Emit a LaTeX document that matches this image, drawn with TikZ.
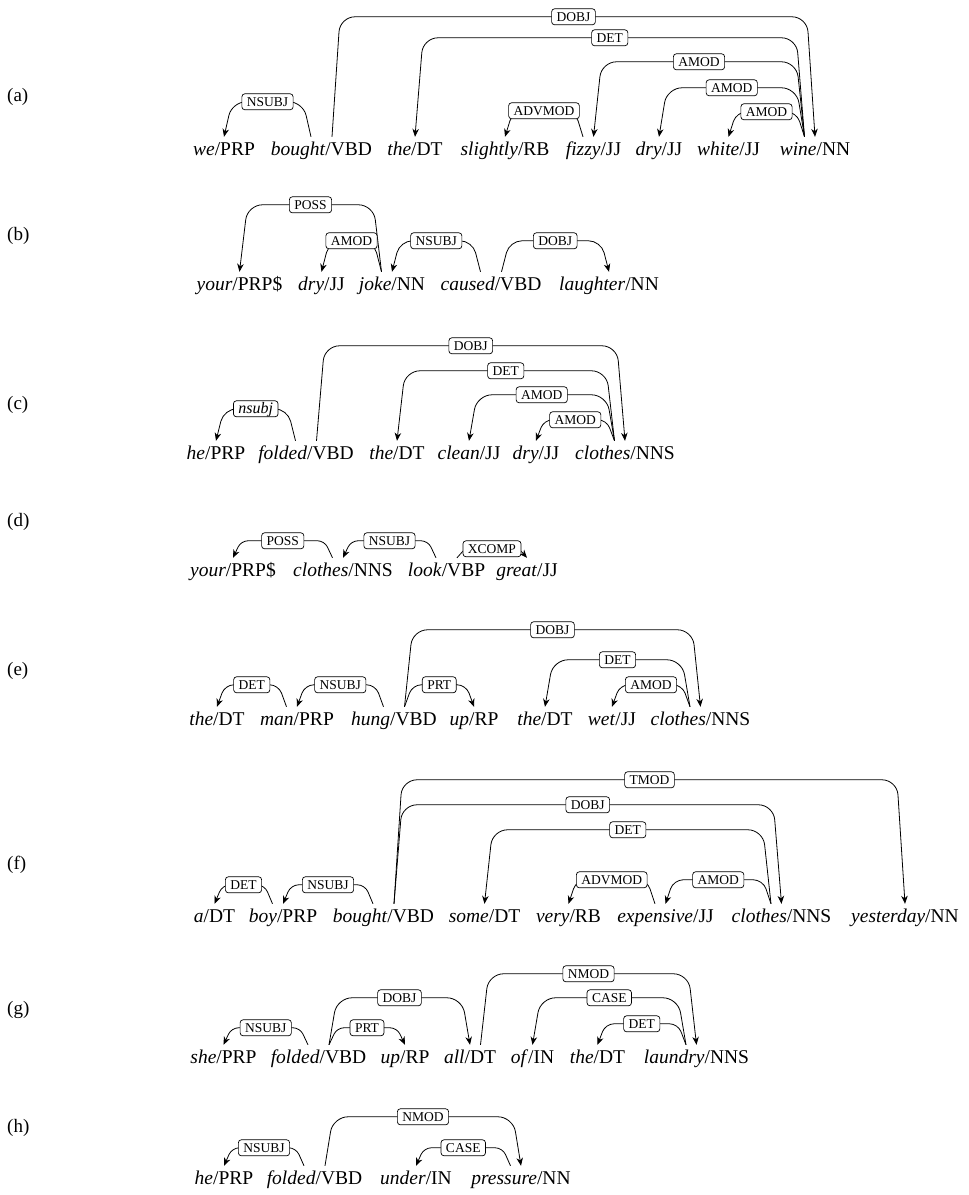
\documentclass[tikz,border=0pt]{standalone}
\usepackage{fontspec}
\setmainfont{Liberation Serif}
\usetikzlibrary{positioning,calc,arrows.meta}

% one dependency arc: head, dependent, direction (1 right, -1 left), height, label
\newcommand{\deparc}[5]{%
  \pgfmathsetmacro\arcround{min(15,0.4*#4)}
  \draw[dep,rounded corners=\arcround pt] ([xshift=#3*10.5pt]#1.north) -- ++(#3*8,#4)
    -- ($(#2.north)+(#3*-8,#4)$) node[lab,midway] {#5} -- (#2.north);
}

\begin{document}
\begin{tikzpicture}
[x=1pt,y=1pt,
word/.style={anchor=base,inner xsep=0pt,inner ysep=6pt,text height=13pt,text depth=4pt,font=\fontsize{19.5}{23}\selectfont},
tag/.style={inner sep=0pt,anchor=west,font=\fontsize{19}{23}\selectfont},
lab/.style={draw,fill=white,rounded corners=3pt,line width=0.7pt,inner xsep=5pt,inner ysep=0pt,
  minimum height=16pt,text height=9pt,text depth=0pt,font=\fontsize{13.5}{15}\selectfont},
dep/.style={draw,line width=0.8pt,-{Stealth[length=8pt,width=6.5pt,inset=2.5pt]}}]
\useasboundingbox (0,0) rectangle (969,1195);

% (a)
\node[tag] (ta) at (7,1098.4) {(a)};
\node[word] (a1) at (224,1039) {\textit{we}/PRP};
\node[word] (a2) at (321.5,1039) {\textit{bought}/VBD};
\node[word] (a3) at (415,1039) {\textit{the}/DT};
\node[word] (a4) at (505,1039) {\textit{slightly}/RB};
\node[word] (a5) at (593.5,1039) {\textit{fizzy}/JJ};
\node[word] (a6) at (659,1039) {\textit{dry}/JJ};
\node[word] (a7) at (728.5,1039) {\textit{white}/JJ};
\node[word] (a8) at (815,1039) {\textit{wine}/NN};
\deparc{a2}{a1}{-1}{35}{NSUBJ}
\deparc{a2}{a8}{1}{120}{DOBJ}
\deparc{a8}{a3}{-1}{99}{DET}
\deparc{a5}{a4}{-1}{26}{ADVMOD}
\deparc{a8}{a5}{-1}{75}{AMOD}
\deparc{a8}{a6}{-1}{49}{AMOD}
\deparc{a8}{a7}{-1}{25}{AMOD}

% (b)
\node[tag] (tb) at (7,959) {(b)};
\node[word] (b1) at (239.5,904) {\textit{your}/PRP\$};
\node[word] (b2) at (321.5,904) {\textit{dry}/JJ};
\node[word] (b3) at (392,904) {\textit{joke}/NN};
\node[word] (b4) at (491,904) {\textit{caused}/VBD};
\node[word] (b5) at (609,904) {\textit{laughter}/NN};
\deparc{b3}{b1}{-1}{67}{POSS}
\deparc{b3}{b2}{-1}{31}{AMOD}
\deparc{b4}{b3}{-1}{31}{NSUBJ}
\deparc{b4}{b5}{1}{31}{DOBJ}

% (c)
\node[tag] (tc) at (7,790) {(c)};
\node[word] (c1) at (216,735) {\textit{he}/PRP};
\node[word] (c2) at (306,735) {\textit{folded}/VBD};
\node[word] (c3) at (397,735) {\textit{the}/DT};
\node[word] (c4) at (469,735) {\textit{clean}/JJ};
\node[word] (c5) at (536,735) {\textit{dry}/JJ};
\node[word] (c6) at (625,735) {\textit{clothes}/NNS};
\deparc{c2}{c1}{-1}{32}{\fontsize{16}{18}\selectfont\itshape nsubj}
\deparc{c2}{c6}{1}{95}{DOBJ}
\deparc{c6}{c3}{-1}{70}{DET}
\deparc{c6}{c4}{-1}{46}{AMOD}
\deparc{c6}{c5}{-1}{21}{AMOD}

% (d)
\node[tag] (td) at (7,673) {(d)};
\node[word] (d1) at (233,618) {\textit{your}/PRP\$};
\node[word] (d2) at (343,618) {\textit{clothes}/NNS};
\node[word] (d3) at (446.5,618) {\textit{look}/VBP};
\node[word] (d4) at (527,618) {\textit{great}/JJ};
\deparc{d2}{d1}{-1}{17}{POSS}
\deparc{d3}{d2}{-1}{17}{NSUBJ}
\deparc{d3}{d4}{1}{9}{XCOMP}

% (e)
\node[tag] (te) at (7,524.5) {(e)};
\node[word] (e1) at (217,469) {\textit{the}/DT};
\node[word] (e2) at (297,469) {\textit{man}/PRP};
\node[word] (e3) at (394,469) {\textit{hung}/VBD};
\node[word] (e4) at (474,469) {\textit{up}/RP};
\node[word] (e5) at (545,469) {\textit{the}/DT};
\node[word] (e6) at (612,469) {\textit{wet}/JJ};
\node[word] (e7) at (700.5,469) {\textit{clothes}/NNS};
\deparc{e2}{e1}{-1}{22}{DET}
\deparc{e3}{e2}{-1}{22}{NSUBJ}
\deparc{e3}{e4}{1}{22}{PRT}
\deparc{e3}{e7}{1}{77}{DOBJ}
\deparc{e7}{e5}{-1}{47}{DET}
\deparc{e7}{e6}{-1}{22}{AMOD}

% (f)
\node[tag] (tf) at (7,330) {(f)};
\node[word] (f1) at (214.5,272) {\textit{a}/DT};
\node[word] (f2) at (283,272) {\textit{boy}/PRP};
\node[word] (f3) at (383.5,272) {\textit{bought}/VBD};
\node[word] (f4) at (484.5,272) {\textit{some}/DT};
\node[word] (f5) at (568.5,272) {\textit{very}/RB};
\node[word] (f6) at (665.5,272) {\textit{expensive}/JJ};
\node[word] (f7) at (781.5,272) {\textit{clothes}/NNS};
\node[word] (f8) at (905,272) {\textit{yesterday}/NN};
\deparc{f2}{f1}{-1}{19}{DET}
\deparc{f3}{f2}{-1}{19}{NSUBJ}
\deparc{f3}{f8}{1}{124}{TMOD}
\deparc{f3}{f7}{1}{99}{DOBJ}
\deparc{f7}{f4}{-1}{74}{DET}
\deparc{f6}{f5}{-1}{24}{ADVMOD}
\deparc{f7}{f6}{-1}{24}{AMOD}

% (g)
\node[tag] (tg) at (7,185) {(g)};
\node[word] (g1) at (223.5,131) {\textit{she}/PRP};
\node[word] (g2) at (318.5,131) {\textit{folded}/VBD};
\node[word] (g3) at (405,131) {\textit{up}/RP};
\node[word] (g4) at (470,131) {\textit{all}/DT};
\node[word] (g5) at (532.5,131) {\textit{of}/IN};
\node[word] (g6) at (597.5,131) {\textit{the}/DT};
\node[word] (g7) at (696.5,131) {\textit{laundry}/NNS};
\deparc{g2}{g1}{-1}{17}{NSUBJ}
\deparc{g2}{g3}{1}{17}{PRT}
\deparc{g2}{g4}{1}{47}{DOBJ}
\deparc{g4}{g7}{1}{71}{NMOD}
\deparc{g7}{g5}{-1}{47}{CASE}
\deparc{g7}{g6}{-1}{21}{DET}

% (h)
\node[tag] (th) at (7,67) {(h)};
\node[word] (h1) at (224,10) {\textit{he}/PRP};
\node[word] (h2) at (314.5,10) {\textit{folded}/VBD};
\node[word] (h3) at (416,10) {\textit{under}/IN};
\node[word] (h4) at (521,10) {\textit{pressure}/NN};
\deparc{h2}{h1}{-1}{18}{NSUBJ}
\deparc{h2}{h4}{1}{49}{NMOD}
\deparc{h4}{h3}{-1}{18}{CASE}
\end{tikzpicture}
\end{document}
